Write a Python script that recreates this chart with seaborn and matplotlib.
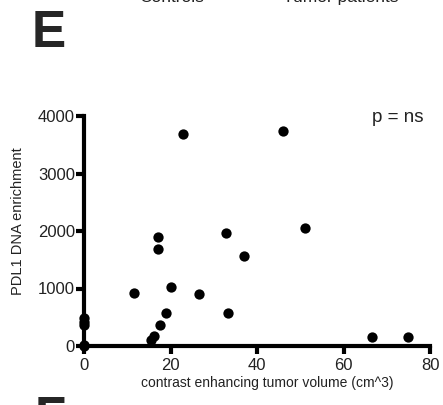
import matplotlib
matplotlib.use("Agg")
import matplotlib.pyplot as plt
import seaborn as sns
import pandas as pd

tumor_volume = [0, 0, 0, 0, 0, 11.5, 15.5, 16.3, 17.6, 17.0, 17.0, 19.0, 20.0,
                23.0, 26.5, 32.8, 33.3, 37.0, 46.0, 51.0, 66.5, 74.8]
pdl1_enrichment = [490, 420, 360, 20, 0, 930, 110, 180, 360, 1890, 1690, 580, 1030,
                   3690, 910, 1960, 580, 1560, 3740, 2060, 150, 150]
x_ticks = [0, 20, 40, 60, 80]
y_ticks = [0, 1000, 2000, 3000, 4000]

df = pd.DataFrame({"volume": tumor_volume, "pdl1": pdl1_enrichment})

sns.set_style("ticks")
plt.rcParams["font.family"] = ["Liberation Sans", "DejaVu Sans"]

fig = plt.figure(figsize=(4.43, 4.05), dpi=100)
ax = fig.add_axes([84 / 443, 59 / 405, 346 / 443, 230 / 405])
sns.scatterplot(data=df, x="volume", y="pdl1", ax=ax, color="black",
                s=55, edgecolor="black", linewidth=0, clip_on=False, zorder=5)
ax.set_xlim(0, 80)
ax.set_ylim(0, 4000)
ax.set_xticks(x_ticks)
ax.set_yticks(y_ticks)
ax.set_xticklabels([str(t) for t in x_ticks], fontsize=12)
ax.set_yticklabels([str(t) for t in y_ticks], fontsize=12)
for s in ["left", "bottom"]:
    ax.spines[s].set_linewidth(3)
    ax.spines[s].set_color("black")
for s in ["top", "right"]:
    ax.spines[s].set_visible(False)
ax.tick_params(width=3, length=6, pad=0.5, color="black", labelcolor="#222222")
ax.tick_params(axis="x", pad=3)
ax.set_xlabel("contrast enhancing tumor volume (cm^3)", fontsize=10, color="#222222")
ax.xaxis.set_label_coords((267 - 84) / 346, (346 - 383) / 230)
ax.xaxis.label.set_va("center")
ax.set_ylabel("PDL1 DNA enrichment", fontsize=10.5, color="#222222")
ax.yaxis.set_label_coords((18 - 84) / 346, (346 - 221) / 230)
ax.yaxis.label.set_va("center")
ax.text((423 - 84) / 346, (346 - 118) / 230, "p = ns", transform=ax.transAxes,
        ha="right", va="center", fontsize=13.5, color="#222222")

fig.text(32 / 443, 1 - 47 / 405, "E", fontsize=37, fontweight="bold", ha="left", va="baseline")
fig.text(172 / 443, 1 + 3 / 405, "Controls", fontsize=12.5, ha="center", va="center", color="#222222")
fig.text(341 / 443, 1 + 3 / 405, "Tumor patients", fontsize=12.5, ha="center", va="center", color="#222222")
fig.text(35 / 443, -28 / 405, "F", fontsize=37, fontweight="bold", ha="left", va="baseline")

fig.savefig("out.png", dpi=100)
